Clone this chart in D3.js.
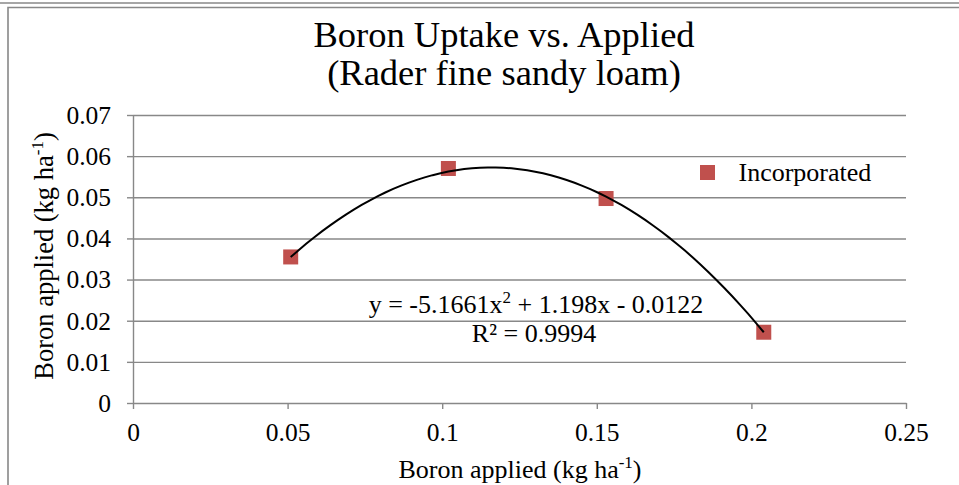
<!DOCTYPE html>
<html>
<head>
<meta charset="utf-8">
<script src="https://cdn.jsdelivr.net/npm/d3@7"></script>
<style>
  body { margin: 0; background: #fff; }
  svg text { font-family: "Liberation Serif", "Times New Roman", serif; fill: #000; }
</style>
</head>
<body>
<div id="chart"></div>
<script>
// DATA
const xValues = [0.051, 0.102, 0.153, 0.204];
const yValues = [0.0355, 0.057, 0.0497, 0.0172];
const seriesName = 'Incorporated';
const xTicks = [0, 0.05, 0.1, 0.15, 0.2, 0.25];
const yTicks = [0, 0.01, 0.02, 0.03, 0.04, 0.05, 0.06, 0.07];
const trendCoef = [-5.1661, 1.198, -0.0122]; // a, b, c of the shown trendline
const titleLines = ['Boron Uptake vs. Applied', '(Rader fine sandy loam)'];

// SETTINGS
const dimensions = { width: 959, height: 485 };
const plot = { left: 133, right: 906, top: 115, bottom: 403 };
const gridColor = '#888888';
const markColor = '#C0504D';

const svg = d3.select('#chart')
    .append('svg')
    .attr('width', dimensions.width)
    .attr('height', dimensions.height);

// page frame
const frame = svg.append('g')
    .attr('stroke', gridColor)
    .attr('stroke-width', 1.6)
    .attr('fill', 'none');
frame.append('line').attr('x1', 0).attr('x2', 959).attr('y1', 3).attr('y2', 3);
frame.append('path').attr('d', 'M8,485V7.5H959');

const x = d3.scaleLinear().domain([0, 0.25]).range([plot.left, plot.right]);
const y = d3.scaleLinear().domain([0, 0.07]).range([plot.bottom, plot.top]);

// gridlines
svg.append('g')
    .attr('transform', `translate(${plot.left},0)`)
    .call(d3.axisLeft(y).tickValues(yTicks.slice(1)).tickSize(-(plot.right - plot.left)).tickFormat(''))
    .call(g => g.select('.domain').remove())
    .selectAll('line')
        .attr('stroke', gridColor)
        .attr('stroke-width', 1.4);

// y axis
const yAxis = svg.append('g')
    .attr('transform', `translate(${plot.left},0)`)
    .call(d3.axisLeft(y).tickValues(yTicks).tickSize(6).tickSizeOuter(0).tickPadding(16)
        .tickFormat(d => d === 0 ? '0' : d3.format('.2f')(d)));
yAxis.select('.domain').attr('stroke', gridColor).attr('stroke-width', 1.4);
yAxis.selectAll('line').attr('stroke', gridColor).attr('stroke-width', 1.4);
yAxis.selectAll('text').attr('font-size', 25.5).attr('dy', '0.33em');

// x axis
const xAxis = svg.append('g')
    .attr('transform', `translate(0,${plot.bottom})`)
    .call(d3.axisBottom(x).tickValues(xTicks).tickSize(6).tickSizeOuter(0).tickPadding(14)
        .tickFormat(d => d === 0 ? '0' : d3.format('')(+d.toFixed(2))));
xAxis.select('.domain').attr('stroke', gridColor).attr('stroke-width', 1.4);
xAxis.selectAll('line').attr('stroke', gridColor).attr('stroke-width', 1.4);
xAxis.selectAll('text').attr('font-size', 25.5).attr('dy', '0.71em');

// title
svg.append('g').selectAll('text')
    .data(titleLines)
    .join('text')
        .attr('x', 504)
        .attr('y', (d, i) => 47 + i * 38)
        .attr('text-anchor', 'middle')
        .attr('font-size', 36.5)
        .text(d => d);

// axis titles
const xTitle = svg.append('text')
    .attr('x', 520)
    .attr('y', 478)
    .attr('text-anchor', 'middle')
    .attr('font-size', 26);
xTitle.append('tspan').text('Boron applied (kg ha');
xTitle.append('tspan').attr('font-size', 17).attr('dy', -10).text('-1');
xTitle.append('tspan').attr('dy', 10).text(')');

const yTitle = svg.append('text')
    .attr('transform', 'translate(53,256) rotate(-90)')
    .attr('text-anchor', 'middle')
    .attr('font-size', 26.5);
yTitle.append('tspan').text('Boron applied (kg ha');
yTitle.append('tspan').attr('font-size', 17).attr('dy', -10).text('-1');
yTitle.append('tspan').attr('dy', 10).text(')');

// trendline
const poly = v => trendCoef[0] * v * v + trendCoef[1] * v + trendCoef[2];
const xMin = d3.min(xValues), xMax = d3.max(xValues);
const trendX = d3.range(0, 61).map(i => xMin + (xMax - xMin) * i / 60);
const line = d3.line().x(d => x(d)).y(d => y(poly(d)));

// markers
const points = xValues.map((v, i) => ({ x: v, y: yValues[i] }));
svg.append('g').selectAll('rect')
    .data(points)
    .join('rect')
        .attr('x', d => x(d.x) - 7.5)
        .attr('y', d => y(d.y) - 7.5)
        .attr('width', 15)
        .attr('height', 15)
        .attr('fill', markColor);

svg.append('path')
    .attr('d', line(trendX))
    .attr('fill', 'none')
    .attr('stroke', '#000')
    .attr('stroke-width', 2);

// trendline label
const eq = svg.append('text')
    .attr('x', 536)
    .attr('y', 313)
    .attr('text-anchor', 'middle')
    .attr('font-size', 26);
eq.append('tspan').text(`y = ${trendCoef[0]}x`);
eq.append('tspan').attr('font-size', 17).attr('dy', -10).text('2');
eq.append('tspan').attr('dy', 10).text(` + ${trendCoef[1]}x - ${Math.abs(trendCoef[2])}`);

svg.append('text')
    .attr('x', 534)
    .attr('y', 342)
    .attr('text-anchor', 'middle')
    .attr('font-size', 26)
    .text('R² = 0.9994');

// legend
const legend = svg.append('g').attr('transform', 'translate(707.5,172.5)');
legend.append('rect')
    .attr('x', -7.5).attr('y', -7.5)
    .attr('width', 15).attr('height', 15)
    .attr('fill', markColor);
legend.append('text')
    .attr('x', 31)
    .attr('y', 8.5)
    .attr('font-size', 26)
    .text(seriesName);
</script>
</body>
</html>
